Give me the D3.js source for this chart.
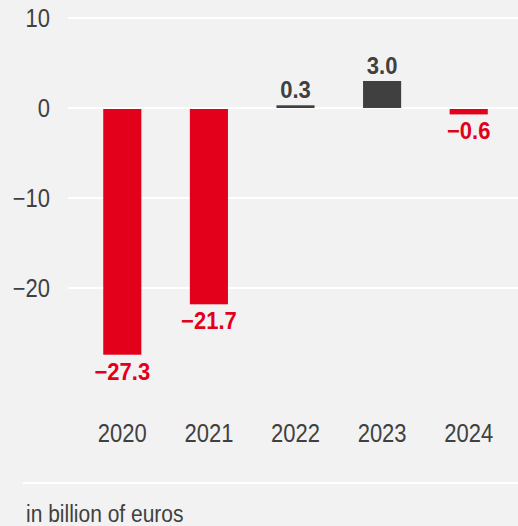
<!DOCTYPE html>
<html>
<head>
<meta charset="utf-8">
<script src="https://cdn.jsdelivr.net/npm/d3@7"></script>
<style>
  html, body { margin: 0; padding: 0; background: #f2f2f2; }
  svg { display: block; font-family: "Liberation Sans", Arial, sans-serif; }
</style>
</head>
<body>
<script>
const years = ["2020", "2021", "2022", "2023", "2024"];
const values = [-27.3, -21.7, 0.3, 3.0, -0.6];
const yTicks = [10, 0, -10, -20];
const unitLabel = "in billion of euros";

const w = 518;
const h = 526;
const red = "#e2001a";
const dark = "#404040";
const stretch = 1.15; // regular labels are drawn a bit taller than wide

const svg = d3.select("body")
    .append("svg")
    .attr("width", w)
    .attr("height", h);

svg.append("rect")
    .attr("width", w)
    .attr("height", h)
    .attr("fill", "#f2f2f2");

const x = d3.scaleBand()
    .domain(years)
    .range([79, 512])
    .paddingInner(0.56)
    .paddingOuter(0.28);

const y = d3.scaleLinear()
    .domain([-20, 10])
    .range([288, 18]);

// gridlines
svg.selectAll("line.grid")
    .data(yTicks)
    .enter()
    .append("line")
    .attr("class", "grid")
    .attr("x1", 68)
    .attr("x2", w)
    .attr("y1", d => y(d))
    .attr("y2", d => y(d))
    .attr("stroke", "#fff")
    .attr("stroke-width", 2);

// y tick labels
const fmt = d => (d < 0 ? "\u2212" + Math.abs(d) : String(d));
svg.selectAll("text.ytick")
    .data(yTicks)
    .enter()
    .append("text")
    .attr("class", "ytick")
    .attr("transform", d => `translate(50,${y(d) + 9}) scale(1,${stretch})`)
    .attr("text-anchor", "end")
    .attr("font-size", 22)
    .attr("fill", dark)
    .text(fmt);

const data = years.map((yr, i) => ({ year: yr, value: values[i] }));

// bars
svg.selectAll("rect.bar")
    .data(data)
    .enter()
    .append("rect")
    .attr("class", "bar")
    .attr("x", d => x(d.year))
    .attr("width", x.bandwidth())
    .attr("y", d => (d.value >= 0 ? y(d.value) : y(0) + 1))
    .attr("height", d => Math.max(2.5, Math.abs(y(d.value) - y(0))))
    .attr("fill", d => (d.value >= 0 ? dark : red));

// value labels
svg.selectAll("text.val")
    .data(data)
    .enter()
    .append("text")
    .attr("class", "val")
    .attr("transform", d => {
        const cx = x(d.year) + x.bandwidth() / 2;
        const ty = d.value >= 0 ? y(d.value) - 7 : Math.max(y(d.value), y(0) + 5) + 26;
        return `translate(${cx},${ty}) scale(1,1.05)`;
    })
    .attr("text-anchor", "middle")
    .attr("font-size", 22)
    .attr("font-weight", "bold")
    .attr("fill", d => (d.value >= 0 ? dark : red))
    .text(d => (d.value < 0 ? "\u2212" + Math.abs(d.value).toFixed(1) : d.value.toFixed(1)));

// year labels
svg.selectAll("text.year")
    .data(years)
    .enter()
    .append("text")
    .attr("class", "year")
    .attr("transform", d => `translate(${x(d) + x.bandwidth() / 2},442) scale(1,${stretch})`)
    .attr("text-anchor", "middle")
    .attr("font-size", 22)
    .attr("fill", dark)
    .text(d => d);

// bottom rule
svg.append("line")
    .attr("x1", 23)
    .attr("x2", w)
    .attr("y1", 483)
    .attr("y2", 483)
    .attr("stroke", "#fff")
    .attr("stroke-width", 2);

svg.append("text")
    .attr("transform", `translate(26,522) scale(1,${stretch})`)
    .attr("font-size", 21)
    .attr("fill", dark)
    .text(unitLabel);
</script>
</body>
</html>
